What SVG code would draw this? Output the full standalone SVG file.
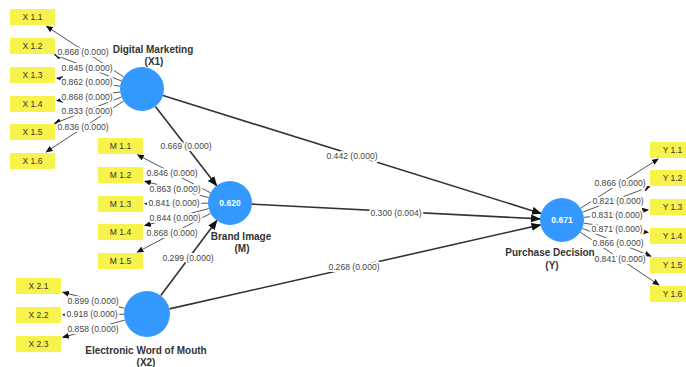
<svg xmlns="http://www.w3.org/2000/svg" width="686" height="367" viewBox="0 0 686 367">
<style>
.bg{fill:#ffffff}
.lv{fill:#3399ff}
.ind rect{fill:#f8f24c}
.ind text{font-family:"Liberation Sans",Arial,sans-serif;font-size:8.5px;fill:#333;text-anchor:middle;dominant-baseline:central}
.title{font-family:"Liberation Sans",Arial,sans-serif;font-size:10px;font-weight:bold;fill:#333;text-anchor:middle}
.r2{font-family:"Liberation Sans",Arial,sans-serif;font-size:8.5px;font-weight:bold;fill:#fff;text-anchor:middle;dominant-baseline:central}
.il{stroke:#555;stroke-width:1;fill:none;marker-end:url(#sa)}
.sl{stroke:#333;stroke-width:1.6;fill:none;marker-end:url(#la)}
.lab{font-family:"Liberation Sans",Arial,sans-serif;font-size:8.6px;fill:#444;text-anchor:middle;dominant-baseline:central;paint-order:stroke;stroke:#fff;stroke-width:4px;stroke-linejoin:round}
</style>
<defs>
<marker id="sa" markerWidth="7" markerHeight="6" refX="6" refY="3" orient="auto" markerUnits="userSpaceOnUse"><path d="M0,0 L7,3 L0,6 z" fill="#111"/></marker>
<marker id="la" markerWidth="10" markerHeight="8" refX="9" refY="4" orient="auto" markerUnits="userSpaceOnUse"><path d="M0,0 L10,4 L0,8 z" fill="#111"/></marker>
</defs>
<rect class="bg" x="0" y="0" width="686" height="367"/>

<g id="connectors">
<line class="il" x1="123.6" y1="76.9" x2="46.7" y2="26.4"/>
<line class="il" x1="121.5" y1="81.0" x2="54.7" y2="54.7"/>
<line class="il" x1="120.2" y1="86.2" x2="57.0" y2="78.1"/>
<line class="il" x1="120.2" y1="92.0" x2="57.0" y2="100.6"/>
<line class="il" x1="121.5" y1="97.0" x2="54.7" y2="123.3"/>
<line class="il" x1="123.6" y1="101.1" x2="46.3" y2="151.9"/>
<line class="il" x1="210.5" y1="192.8" x2="137.7" y2="154.9"/>
<line class="il" x1="208.7" y1="197.6" x2="144.9" y2="181.3"/>
<line class="il" x1="208.0" y1="203.2" x2="145.0" y2="203.8"/>
<line class="il" x1="208.7" y1="208.6" x2="144.9" y2="225.5"/>
<line class="il" x1="210.6" y1="213.3" x2="137.4" y2="252.1"/>
<line class="il" x1="124.7" y1="308.3" x2="62.9" y2="292.3"/>
<line class="il" x1="124.0" y1="314.2" x2="63.0" y2="314.8"/>
<line class="il" x1="124.8" y1="320.1" x2="62.9" y2="337.3"/>
<line class="il" x1="580.6" y1="208.2" x2="658.1" y2="159.1"/>
<line class="il" x1="582.6" y1="212.2" x2="649.6" y2="186.7"/>
<line class="il" x1="583.9" y1="217.4" x2="648.0" y2="209.9"/>
<line class="il" x1="583.8" y1="223.2" x2="648.0" y2="232.4"/>
<line class="il" x1="582.4" y1="228.3" x2="650.7" y2="256.1"/>
<line class="il" x1="580.3" y1="232.2" x2="658.8" y2="284.9"/>
<line class="sl" x1="155.4" y1="106.4" x2="216.6" y2="185.6"/>
<line class="sl" x1="163.0" y1="95.6" x2="541.0" y2="213.4"/>
<line class="sl" x1="252.0" y1="204.1" x2="540.0" y2="218.9"/>
<line class="sl" x1="160.8" y1="295.6" x2="216.8" y2="220.6"/>
<line class="sl" x1="169.4" y1="308.9" x2="540.5" y2="224.9"/>
<text class="lab" x="83" y="52">0.868 (0.000)</text>
<text class="lab" x="87" y="68">0.845 (0.000)</text>
<text class="lab" x="87" y="82">0.862 (0.000)</text>
<text class="lab" x="87" y="97">0.868 (0.000)</text>
<text class="lab" x="87" y="111">0.833 (0.000)</text>
<text class="lab" x="83" y="127">0.836 (0.000)</text>
<text class="lab" x="172" y="173">0.846 (0.000)</text>
<text class="lab" x="175" y="189">0.863 (0.000)</text>
<text class="lab" x="174" y="203">0.841 (0.000)</text>
<text class="lab" x="175" y="218">0.844 (0.000)</text>
<text class="lab" x="172" y="233">0.868 (0.000)</text>
<text class="lab" x="93" y="301">0.899 (0.000)</text>
<text class="lab" x="92" y="313.5">0.918 (0.000)</text>
<text class="lab" x="93" y="329">0.858 (0.000)</text>
<text class="lab" x="620" y="183">0.866 (0.000)</text>
<text class="lab" x="618" y="200.5">0.821 (0.000)</text>
<text class="lab" x="617" y="215">0.831 (0.000)</text>
<text class="lab" x="617" y="229">0.871 (0.000)</text>
<text class="lab" x="618" y="243">0.866 (0.000)</text>
<text class="lab" x="620" y="259">0.841 (0.000)</text>
<text class="lab" x="186" y="146">0.669 (0.000)</text>
<text class="lab" x="352" y="156">0.442 (0.000)</text>
<text class="lab" x="396" y="213">0.300 (0.004)</text>
<text class="lab" x="188" y="258">0.299 (0.000)</text>
<text class="lab" x="354" y="267">0.268 (0.000)</text>
</g>

<g id="X1">
<circle class="lv" cx="142" cy="89" r="22"/>
<text class="title" x="153" y="52.5">Digital Marketing</text>
<text class="title" x="154" y="65">(X1)</text>
</g>
<g id="M">
<circle class="lv" cx="230" cy="203" r="22"/>
<text class="r2" x="230" y="203">0.620</text>
<text class="title" x="241" y="239.5">Brand Image</text>
<text class="title" x="242" y="252">(M)</text>
</g>
<g id="X2">
<circle class="lv" cx="147" cy="314" r="23"/>
<text class="title" x="146" y="353.5">Electronic Word of Mouth</text>
<text class="title" x="146" y="366">(X2)</text>
</g>
<g id="Y">
<circle class="lv" cx="562" cy="220" r="22"/>
<text class="r2" x="562" y="220">0.671</text>
<text class="title" x="550" y="255.5">Purchase Decision</text>
<text class="title" x="552" y="268.5">(Y)</text>
</g>

<g id="X1_1" class="ind"><rect x="10" y="9" width="45" height="16"/><text x="32.5" y="17">X 1.1</text></g>
<g id="X1_2" class="ind"><rect x="10" y="38" width="45" height="16"/><text x="32.5" y="46">X 1.2</text></g>
<g id="X1_3" class="ind"><rect x="10" y="67" width="45" height="16"/><text x="32.5" y="75">X 1.3</text></g>
<g id="X1_4" class="ind"><rect x="10" y="96" width="45" height="16"/><text x="32.5" y="104">X 1.4</text></g>
<g id="X1_5" class="ind"><rect x="10" y="124" width="45" height="16"/><text x="32.5" y="132">X 1.5</text></g>
<g id="X1_6" class="ind"><rect x="10" y="153" width="45" height="16"/><text x="32.5" y="161">X 1.6</text></g>

<g id="M1_1" class="ind"><rect x="98" y="138" width="45" height="16"/><text x="120.5" y="146">M 1.1</text></g>
<g id="M1_2" class="ind"><rect x="98" y="167" width="45" height="16"/><text x="120.5" y="175">M 1.2</text></g>
<g id="M1_3" class="ind"><rect x="98" y="196" width="45" height="16"/><text x="120.5" y="204">M 1.3</text></g>
<g id="M1_4" class="ind"><rect x="98" y="224" width="45" height="16"/><text x="120.5" y="232">M 1.4</text></g>
<g id="M1_5" class="ind"><rect x="98" y="253" width="45" height="16"/><text x="120.5" y="261">M 1.5</text></g>

<g id="X2_1" class="ind"><rect x="16" y="278" width="45" height="16"/><text x="38.5" y="286">X 2.1</text></g>
<g id="X2_2" class="ind"><rect x="16" y="307" width="45" height="16"/><text x="38.5" y="315">X 2.2</text></g>
<g id="X2_3" class="ind"><rect x="16" y="336" width="45" height="16"/><text x="38.5" y="344">X 2.3</text></g>

<g id="Y1_1" class="ind"><rect x="650" y="142" width="45" height="16"/><text x="672.5" y="150">Y 1.1</text></g>
<g id="Y1_2" class="ind"><rect x="650" y="170" width="45" height="16"/><text x="672.5" y="178">Y 1.2</text></g>
<g id="Y1_3" class="ind"><rect x="650" y="199" width="45" height="16"/><text x="672.5" y="207">Y 1.3</text></g>
<g id="Y1_4" class="ind"><rect x="650" y="228" width="45" height="16"/><text x="672.5" y="236">Y 1.4</text></g>
<g id="Y1_5" class="ind"><rect x="650" y="257" width="45" height="16"/><text x="672.5" y="265">Y 1.5</text></g>
<g id="Y1_6" class="ind"><rect x="650" y="286" width="45" height="16"/><text x="672.5" y="294">Y 1.6</text></g>
</svg>
